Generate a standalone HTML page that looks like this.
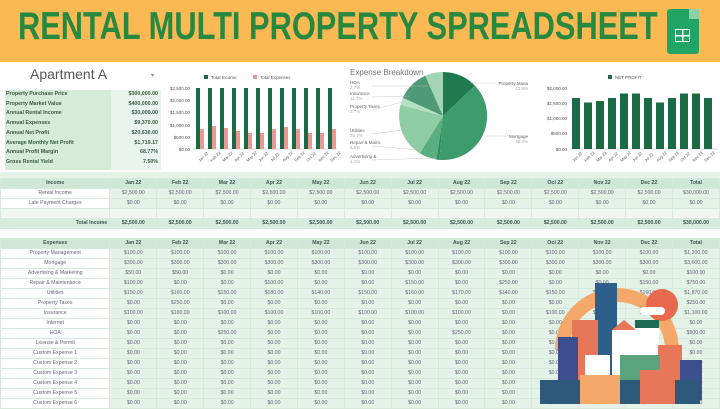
<!DOCTYPE html>
<html><head><meta charset="utf-8"><style>
*{margin:0;padding:0;box-sizing:border-box}
body{width:720px;height:404px;overflow:hidden;background:#fff;font-family:"Liberation Sans",sans-serif;position:relative}
.ab{position:absolute}
#title{left:0;top:0;width:720px;height:62px;background:#fbb954}
#title .t{position:absolute;left:18px;top:7px;font-weight:bold;font-size:39px;line-height:1;color:#27883f;white-space:nowrap;transform:scaleX(0.79);transform-origin:left}
table{border-collapse:collapse;table-layout:fixed;position:absolute;left:0;font-size:5.2px;color:#667}
td{height:9.8px;text-align:center;border:0.5px solid #d6e9dc;white-space:nowrap;overflow:hidden;padding:0;line-height:9px}
td.l{background:#fff;width:110px}
td.d{background:#e4f2e8;width:47.2px}
tr.h td{background:#cfe7d6;font-weight:bold;color:#455}
tr.tot td{background:#d6ecdc;font-weight:bold;color:#455}
tr.bl td{background:#eef7f1}
.kv{position:absolute;left:6px;font-size:5.3px;font-weight:bold;color:#3c5a45;width:152px;height:9.7px;line-height:9.7px}
.kv span{float:right}
</style></head><body>
<div id="title" class="ab"><div class="t">RENTAL MULTI PROPERTY SPREADSHEET</div>
<div class="ab" style="left:667px;top:9px;width:32px;height:45px;background:#21a464;border-radius:3px"></div>
<div class="ab" style="left:689px;top:9px;width:10px;height:10px;background:#8ed1a8"></div>
<div class="ab" style="left:675px;top:29px;width:15px;height:13px;border:1.5px solid #fff;background:linear-gradient(#fff,#fff) 50% 0/1.5px 100% no-repeat,linear-gradient(#fff,#fff) 0 50%/100% 1.5px no-repeat"></div>
</div>

<div class="ab" style="left:30px;top:66px;font-size:14px;color:#555">Apartment A</div>
<div class="ab" style="left:151px;top:72px;font-size:6px;color:#888">▾</div>
<div class="ab" style="left:5px;top:90px;width:106px;height:80px;background:#d5ecd9"></div>
<div class="ab" style="left:111px;top:90px;width:50px;height:80px;background:#e9f5ec"></div>
<div class="kv" style="top:90px">Property Purchase Price<span>$300,000.00</span></div>
<div class="kv" style="top:99.7px">Property Market Value<span>$400,000.00</span></div>
<div class="kv" style="top:109.4px">Annual Rental Income<span>$30,000.00</span></div>
<div class="kv" style="top:119.1px">Annual Expenses<span>$9,370.00</span></div>
<div class="kv" style="top:128.8px">Annual Net Profit<span>$20,630.00</span></div>
<div class="kv" style="top:138.5px">Average Monthly Net Profit<span>$1,719.17</span></div>
<div class="kv" style="top:148.2px">Annual Profit Margin<span>68.77%</span></div>
<div class="kv" style="top:157.9px">Gross Rental Yield<span>7.50%</span></div>

<svg class="ab" style="left:0;top:0" width="720" height="180" font-family="Liberation Sans" font-size="4.5" fill="#555">
<rect x="204" y="75" width="4" height="4" fill="#1a6b45"/><text x="211" y="79">Total Income</text>
<rect x="253" y="75" width="4" height="4" fill="#e89a95"/><text x="260" y="79">Total Expenses</text>
<g text-anchor="end"><text x="190" y="90">$2,500.00</text><text x="190" y="102">$2,000.00</text><text x="190" y="114">$1,500.00</text><text x="190" y="127">$1,000.00</text><text x="190" y="139">$500.00</text><text x="190" y="151">$0.00</text></g>
<line x1="193" y1="149" x2="337" y2="149" stroke="#999" stroke-width="0.4"/>
<g fill="#1a6b45">
<rect x="196" y="88" width="4" height="61"/><rect x="208" y="88" width="4" height="61"/><rect x="220" y="88" width="4" height="61"/><rect x="232" y="88" width="4" height="61"/><rect x="244" y="88" width="4" height="61"/><rect x="256" y="88" width="4" height="61"/><rect x="268" y="88" width="4" height="61"/><rect x="280" y="88" width="4" height="61"/><rect x="292" y="88" width="4" height="61"/><rect x="304" y="88" width="4" height="61"/><rect x="316" y="88" width="4" height="61"/><rect x="328" y="88" width="4" height="61"/></g>
<g fill="#e89a95">
<rect x="200" y="129" width="4" height="20"/><rect x="212" y="126" width="4" height="23"/><rect x="224" y="128" width="4" height="21"/><rect x="236" y="131" width="4" height="18"/><rect x="248" y="133" width="4" height="16"/><rect x="260" y="133" width="4" height="16"/><rect x="272" y="129" width="4" height="20"/><rect x="284" y="127" width="4" height="22"/><rect x="296" y="129" width="4" height="20"/><rect x="308" y="133" width="4" height="16"/><rect x="320" y="133" width="4" height="16"/><rect x="332" y="129" width="4" height="20"/></g>
<g font-size="4">
<text transform="translate(200,162) rotate(-45)">Jan 22</text><text transform="translate(212,162) rotate(-45)">Feb 22</text><text transform="translate(224,162) rotate(-45)">Mar 22</text><text transform="translate(236,162) rotate(-45)">Apr 22</text><text transform="translate(248,162) rotate(-45)">May 22</text><text transform="translate(260,162) rotate(-45)">Jun 22</text><text transform="translate(272,162) rotate(-45)">Jul 22</text><text transform="translate(284,162) rotate(-45)">Aug 22</text><text transform="translate(296,162) rotate(-45)">Sep 22</text><text transform="translate(308,162) rotate(-45)">Oct 22</text><text transform="translate(320,162) rotate(-45)">Nov 22</text><text transform="translate(332,162) rotate(-45)">Dec 22</text></g>

<text x="350" y="75" font-size="8" fill="#777">Expense Breakdown</text>
<path d="M443,116 L443,72 A44,44 0 0 1 474.9,85.6Z" fill="#1f7a4f"/>
<path d="M443,116 L474.9,85.6 A44,44 0 0 1 439.5,159.9Z" fill="#3d9b6c"/>
<path d="M443,116 L439.5,159.9 A44,44 0 0 1 436.4,159.5Z" fill="#2f8a5c"/>
<path d="M443,116 L436.4,159.5 A44,44 0 0 1 419.7,153.3Z" fill="#5aae80"/>
<path d="M443,116 L419.7,153.3 A44,44 0 0 1 400.5,104.8Z" fill="#8fcea5"/>
<path d="M443,116 L400.5,104.8 A44,44 0 0 1 402.9,97.8Z" fill="#b5dfc2"/>
<path d="M443,116 L402.9,97.8 A44,44 0 0 1 425.4,75.7Z" fill="#4f9a76"/>
<path d="M443,116 L425.4,75.7 A44,44 0 0 1 443,72Z" fill="#a2d4b5"/>
<g font-size="4.5" fill="#666">
<text x="350" y="84">HOA</text><text x="350" y="89" fill="#aaa">2.7%</text>
<text x="350" y="95">Insurance</text><text x="350" y="100" fill="#aaa">11.7%</text>
<text x="350" y="108">Property Taxes</text><text x="350" y="113" fill="#aaa">2.7%</text>
<text x="350" y="132">Utilities</text><text x="350" y="137" fill="#aaa">20.2%</text>
<text x="350" y="144">Repair &amp; Maint.</text><text x="350" y="149" fill="#aaa">6.5%</text>
<text x="350" y="158">Advertising &amp;</text><text x="350" y="163" fill="#aaa">1.1%</text>
<text x="528" y="85" text-anchor="end">Property Mana</text><text x="528" y="90" text-anchor="end" fill="#aaa">12.9%</text>
<text x="528" y="138" text-anchor="end">Mortgage</text><text x="528" y="143" text-anchor="end" fill="#aaa">38.4%</text>
</g>
<g stroke="#bbb" stroke-width="0.4"><line x1="372" y1="86" x2="428" y2="86"/><line x1="372" y1="97" x2="410" y2="96"/><line x1="372" y1="110" x2="402" y2="102"/><line x1="372" y1="134" x2="402" y2="130"/><line x1="372" y1="146" x2="420" y2="150"/><line x1="372" y1="160" x2="436" y2="158"/><line x1="470" y1="83" x2="528" y2="83"/><line x1="486" y1="136" x2="528" y2="136"/></g>

<rect x="608" y="75" width="4" height="4" fill="#1a6b45"/><text x="615" y="79">NET PROFIT</text>
<g text-anchor="end"><text x="567" y="90">$2,000.00</text><text x="567" y="105">$1,500.00</text><text x="567" y="120">$1,000.00</text><text x="567" y="135">$500.00</text><text x="567" y="151">$0.00</text></g>
<line x1="570" y1="149" x2="718" y2="149" stroke="#999" stroke-width="0.4"/>
<g fill="#1a6b45">
<rect x="572" y="98" width="8" height="51"/><rect x="584" y="102.5" width="8" height="46.5"/><rect x="596" y="101" width="8" height="48"/><rect x="608" y="98" width="8" height="51"/><rect x="620" y="93.5" width="8" height="55.5"/><rect x="632" y="93.5" width="8" height="55.5"/><rect x="644" y="98" width="8" height="51"/><rect x="656" y="102.5" width="8" height="46.5"/><rect x="668" y="98" width="8" height="51"/><rect x="680" y="93.5" width="8" height="55.5"/><rect x="692" y="93.5" width="8" height="55.5"/><rect x="704" y="98" width="8" height="51"/></g>
<g font-size="4">
<text transform="translate(574,162) rotate(-45)">Jan 22</text><text transform="translate(586,162) rotate(-45)">Feb 22</text><text transform="translate(598,162) rotate(-45)">Mar 22</text><text transform="translate(610,162) rotate(-45)">Apr 22</text><text transform="translate(622,162) rotate(-45)">May 22</text><text transform="translate(634,162) rotate(-45)">Jun 22</text><text transform="translate(646,162) rotate(-45)">Jul 22</text><text transform="translate(658,162) rotate(-45)">Aug 22</text><text transform="translate(670,162) rotate(-45)">Sep 22</text><text transform="translate(682,162) rotate(-45)">Oct 22</text><text transform="translate(694,162) rotate(-45)">Nov 22</text><text transform="translate(706,162) rotate(-45)">Dec 22</text></g>
</svg>

<div class="ab" style="left:0;top:172px;width:720px;height:6px;background:#e4f2e8"></div>
<table style="top:178px">
<tr class="h"><td class="l">Income</td><td class="d">Jan 22</td><td class="d">Feb 22</td><td class="d">Mar 22</td><td class="d">Apr 22</td><td class="d">May 22</td><td class="d">Jun 22</td><td class="d">Jul 22</td><td class="d">Aug 22</td><td class="d">Sep 22</td><td class="d">Oct 22</td><td class="d">Nov 22</td><td class="d">Dec 22</td><td class="d">Total</td></tr>
<tr><td class="l">Rental Income</td><td class="d">$2,500.00</td><td class="d">$2,500.00</td><td class="d">$2,500.00</td><td class="d">$2,500.00</td><td class="d">$2,500.00</td><td class="d">$2,500.00</td><td class="d">$2,500.00</td><td class="d">$2,500.00</td><td class="d">$2,500.00</td><td class="d">$2,500.00</td><td class="d">$2,500.00</td><td class="d">$2,500.00</td><td class="d">$30,000.00</td></tr>
<tr><td class="l">Late Payment Charges</td><td class="d">$0.00</td><td class="d">$0.00</td><td class="d">$0.00</td><td class="d">$0.00</td><td class="d">$0.00</td><td class="d">$0.00</td><td class="d">$0.00</td><td class="d">$0.00</td><td class="d">$0.00</td><td class="d">$0.00</td><td class="d">$0.00</td><td class="d">$0.00</td><td class="d">$0.00</td></tr>
<tr class="bl"><td class="l"></td><td class="d"></td><td class="d"></td><td class="d"></td><td class="d"></td><td class="d"></td><td class="d"></td><td class="d"></td><td class="d"></td><td class="d"></td><td class="d"></td><td class="d"></td><td class="d"></td><td class="d"></td></tr>
<tr class="tot"><td class="l" style="text-align:right;padding-right:2px">Total Income</td><td class="d">$2,500.00</td><td class="d">$2,500.00</td><td class="d">$2,500.00</td><td class="d">$2,500.00</td><td class="d">$2,500.00</td><td class="d">$2,500.00</td><td class="d">$2,500.00</td><td class="d">$2,500.00</td><td class="d">$2,500.00</td><td class="d">$2,500.00</td><td class="d">$2,500.00</td><td class="d">$2,500.00</td><td class="d">$30,000.00</td></tr>
</table>

<table style="top:238px">
<tr class="h"><td class="l">Expenses</td><td class="d">Jan 22</td><td class="d">Feb 22</td><td class="d">Mar 22</td><td class="d">Apr 22</td><td class="d">May 22</td><td class="d">Jun 22</td><td class="d">Jul 22</td><td class="d">Aug 22</td><td class="d">Sep 22</td><td class="d">Oct 22</td><td class="d">Nov 22</td><td class="d">Dec 22</td><td class="d">Total</td></tr>
<tr><td class="l">Property Management</td><td class="d">$100.00</td><td class="d">$100.00</td><td class="d">$100.00</td><td class="d">$100.00</td><td class="d">$100.00</td><td class="d">$100.00</td><td class="d">$100.00</td><td class="d">$100.00</td><td class="d">$100.00</td><td class="d">$100.00</td><td class="d">$100.00</td><td class="d">$100.00</td><td class="d">$1,200.00</td></tr>
<tr><td class="l">Mortgage</td><td class="d">$300.00</td><td class="d">$300.00</td><td class="d">$300.00</td><td class="d">$300.00</td><td class="d">$300.00</td><td class="d">$300.00</td><td class="d">$300.00</td><td class="d">$300.00</td><td class="d">$300.00</td><td class="d">$300.00</td><td class="d">$300.00</td><td class="d">$300.00</td><td class="d">$3,600.00</td></tr>
<tr><td class="l">Advertising &amp; Marketing</td><td class="d">$50.00</td><td class="d">$50.00</td><td class="d">$0.00</td><td class="d">$0.00</td><td class="d">$0.00</td><td class="d">$0.00</td><td class="d">$0.00</td><td class="d">$0.00</td><td class="d">$0.00</td><td class="d">$0.00</td><td class="d">$0.00</td><td class="d">$0.00</td><td class="d">$100.00</td></tr>
<tr><td class="l">Repair &amp; Maintenance</td><td class="d">$100.00</td><td class="d">$0.00</td><td class="d">$0.00</td><td class="d">$100.00</td><td class="d">$0.00</td><td class="d">$0.00</td><td class="d">$150.00</td><td class="d">$0.00</td><td class="d">$250.00</td><td class="d">$0.00</td><td class="d">$0.00</td><td class="d">$150.00</td><td class="d">$750.00</td></tr>
<tr><td class="l">Utilities</td><td class="d">$150.00</td><td class="d">$160.00</td><td class="d">$150.00</td><td class="d">$180.00</td><td class="d">$140.00</td><td class="d">$150.00</td><td class="d">$160.00</td><td class="d">$170.00</td><td class="d">$140.00</td><td class="d">$150.00</td><td class="d">$160.00</td><td class="d">$160.00</td><td class="d">$1,870.00</td></tr>
<tr><td class="l">Property Taxes</td><td class="d">$0.00</td><td class="d">$250.00</td><td class="d">$0.00</td><td class="d">$0.00</td><td class="d">$0.00</td><td class="d">$0.00</td><td class="d">$0.00</td><td class="d">$0.00</td><td class="d">$0.00</td><td class="d">$0.00</td><td class="d">$0.00</td><td class="d">$0.00</td><td class="d">$250.00</td></tr>
<tr><td class="l">Insurance</td><td class="d">$100.00</td><td class="d">$100.00</td><td class="d">$100.00</td><td class="d">$100.00</td><td class="d">$100.00</td><td class="d">$100.00</td><td class="d">$100.00</td><td class="d">$100.00</td><td class="d">$0.00</td><td class="d">$100.00</td><td class="d">$100.00</td><td class="d">$100.00</td><td class="d">$1,100.00</td></tr>
<tr><td class="l">Internet</td><td class="d">$0.00</td><td class="d">$0.00</td><td class="d">$0.00</td><td class="d">$0.00</td><td class="d">$0.00</td><td class="d">$0.00</td><td class="d">$0.00</td><td class="d">$0.00</td><td class="d">$0.00</td><td class="d">$0.00</td><td class="d">$0.00</td><td class="d">$0.00</td><td class="d">$0.00</td></tr>
<tr><td class="l">HOA</td><td class="d">$0.00</td><td class="d">$0.00</td><td class="d">$250.00</td><td class="d">$0.00</td><td class="d">$0.00</td><td class="d">$0.00</td><td class="d">$0.00</td><td class="d">$250.00</td><td class="d">$0.00</td><td class="d">$0.00</td><td class="d">$0.00</td><td class="d">$0.00</td><td class="d">$500.00</td></tr>
<tr><td class="l">License &amp; Permit</td><td class="d">$0.00</td><td class="d">$0.00</td><td class="d">$0.00</td><td class="d">$0.00</td><td class="d">$0.00</td><td class="d">$0.00</td><td class="d">$0.00</td><td class="d">$0.00</td><td class="d">$0.00</td><td class="d">$0.00</td><td class="d">$0.00</td><td class="d">$0.00</td><td class="d">$0.00</td></tr>
<tr><td class="l">Custom Expense 1</td><td class="d">$0.00</td><td class="d">$0.00</td><td class="d">$0.00</td><td class="d">$0.00</td><td class="d">$0.00</td><td class="d">$0.00</td><td class="d">$0.00</td><td class="d">$0.00</td><td class="d">$0.00</td><td class="d">$0.00</td><td class="d">$0.00</td><td class="d">$0.00</td><td class="d">$0.00</td></tr>
<tr><td class="l">Custom Expense 2</td><td class="d">$0.00</td><td class="d">$0.00</td><td class="d">$0.00</td><td class="d">$0.00</td><td class="d">$0.00</td><td class="d">$0.00</td><td class="d">$0.00</td><td class="d">$0.00</td><td class="d">$0.00</td><td class="d">$0.00</td><td class="d">$0.00</td><td class="d">$0.00</td><td class="d">$0.00</td></tr>
<tr><td class="l">Custom Expense 3</td><td class="d">$0.00</td><td class="d">$0.00</td><td class="d">$0.00</td><td class="d">$0.00</td><td class="d">$0.00</td><td class="d">$0.00</td><td class="d">$0.00</td><td class="d">$0.00</td><td class="d">$0.00</td><td class="d">$0.00</td><td class="d">$0.00</td><td class="d">$0.00</td><td class="d">$0.00</td></tr>
<tr><td class="l">Custom Expense 4</td><td class="d">$0.00</td><td class="d">$0.00</td><td class="d">$0.00</td><td class="d">$0.00</td><td class="d">$0.00</td><td class="d">$0.00</td><td class="d">$0.00</td><td class="d">$0.00</td><td class="d">$0.00</td><td class="d">$0.00</td><td class="d">$0.00</td><td class="d">$0.00</td><td class="d">$0.00</td></tr>
<tr><td class="l">Custom Expense 5</td><td class="d">$0.00</td><td class="d">$0.00</td><td class="d">$0.00</td><td class="d">$0.00</td><td class="d">$0.00</td><td class="d">$0.00</td><td class="d">$0.00</td><td class="d">$0.00</td><td class="d">$0.00</td><td class="d">$0.00</td><td class="d">$0.00</td><td class="d">$0.00</td><td class="d">$0.00</td></tr>
<tr><td class="l">Custom Expense 6</td><td class="d">$0.00</td><td class="d">$0.00</td><td class="d">$0.00</td><td class="d">$0.00</td><td class="d">$0.00</td><td class="d">$0.00</td><td class="d">$0.00</td><td class="d">$0.00</td><td class="d">$0.00</td><td class="d">$0.00</td><td class="d">$0.00</td><td class="d">$0.00</td><td class="d">$0.00</td></tr>
</table>

<svg class="ab" style="left:500px;top:275px" width="220" height="129">
<path d="M55,75 A62,62 0 0 1 179,75 L165,75 A48,48 0 0 0 69,75Z" fill="#f4a96a"/>
<circle cx="162" cy="30" r="16" fill="#e86a4e"/>
<rect x="140" y="32" width="25" height="8" rx="4" fill="#fff"/>
<rect x="95" y="8" width="22" height="110" fill="#2e5f8a"/>
<rect x="72" y="45" width="26" height="75" fill="#e8775a"/>
<rect x="58" y="62" width="20" height="60" fill="#3e4f8f"/>
<rect x="112" y="55" width="24" height="65" fill="#fff"/><path d="M112,55 L124,45 L136,55Z" fill="#e8775a"/>
<rect x="135" y="45" width="24" height="75" fill="#fff"/><rect x="135" y="45" width="24" height="8" fill="#1c6b55"/>
<rect x="158" y="70" width="24" height="50" fill="#e8775a"/>
<rect x="120" y="80" width="40" height="45" fill="#5aa37d"/>
<rect x="180" y="85" width="22" height="40" fill="#3e4f8f"/>
<rect x="85" y="80" width="25" height="45" fill="#fff"/>
<rect x="40" y="105" width="160" height="24" fill="#2d5a7a"/>
<rect x="80" y="100" width="40" height="29" fill="#f4a96a"/>
<rect x="140" y="95" width="35" height="34" fill="#e8775a"/>
</svg>
</body></html>
